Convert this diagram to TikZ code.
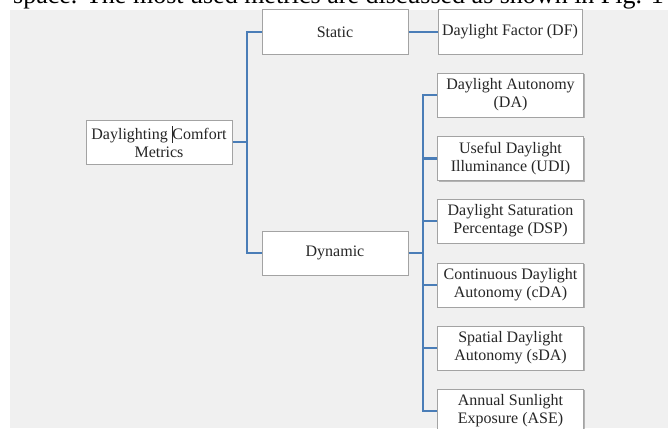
\documentclass[tikz,border=0pt]{standalone}
\usepackage{fontspec}
\setmainfont{Liberation Serif}
\usetikzlibrary{shadows}
\definecolor{panel}{HTML}{F0F0F0}
\definecolor{wire}{HTML}{4A7DB7}
\definecolor{frame}{HTML}{A3A3A3}
\definecolor{ink}{HTML}{262626}
\begin{document}
\begin{tikzpicture}[x=1pt,y=-1pt,
  box/.style={draw=frame, line width=1pt, fill=white,
    minimum width=146pt, minimum height=44pt, inner sep=0pt,
    align=center, text=ink, font=\fontsize{16}{18}\selectfont,
    drop shadow={shadow xshift=1pt, shadow yshift=-1pt, opacity=0.25, fill=black}},
  link/.style={draw=wire, line width=2.5pt}]
\useasboundingbox (0,0) rectangle (668,428);
\clip (0,0) rectangle (668,428);

% running text of the page above the figure
\node[anchor=base west, inner sep=0pt, font=\fontsize{26}{30}\selectfont, text=black]
  (caption) at (13,3.5) {space. The most used metrics are discussed as shown in Fig. 1};

% figure panel
\fill[panel] (10,10) rectangle (668,428);

% boxes
\node[box] (root) at (159,142) {Daylighting\kern0.25em\rule[-0.2em]{0.5pt}{1.05em}Comfort\\Metrics};
\node[box] (static) at (335,32) {Static};
\node[box] (dynamic) at (335,253) {Dynamic};
\node[box, minimum width=144pt] (df) at (510,32) {Daylight Factor (DF)};

\node[box] (da)  at (510.5,95)    {Daylight Autonomy\\(DA)};
\node[box] (udi) at (510.5,158.5) {Useful Daylight\\Illuminance (UDI)};
\node[box] (dsp) at (510.5,221)   {Daylight Saturation\\Percentage (DSP)};
\node[box] (cda) at (510.5,285)   {Continuous Daylight\\Autonomy (cDA)};
\node[box] (sda) at (510.5,348)   {Spatial Daylight\\Autonomy (sDA)};
\node[box] (ase) at (510.5,411)   {Annual Sunlight\\Exposure (ASE)};

% bus junctions
\coordinate (busL) at (247,142);
\coordinate (busR) at (423,253);

% connectors, left level
\draw[link] (static.west) -| (busL) |- (dynamic.west);
\draw[link] (root.east) -- (busL);
\draw[link] (static.east) -- (df.west);

% connectors, right level
\draw[link] (dynamic.east) -- (busR);
\draw[link] (da.west) -| (busR) |- (ase.west);
\foreach \leaf in {udi,dsp,cda,sda}
  \draw[link] (\leaf.west) -- (busR |- \leaf.west);
\end{tikzpicture}
\end{document}
